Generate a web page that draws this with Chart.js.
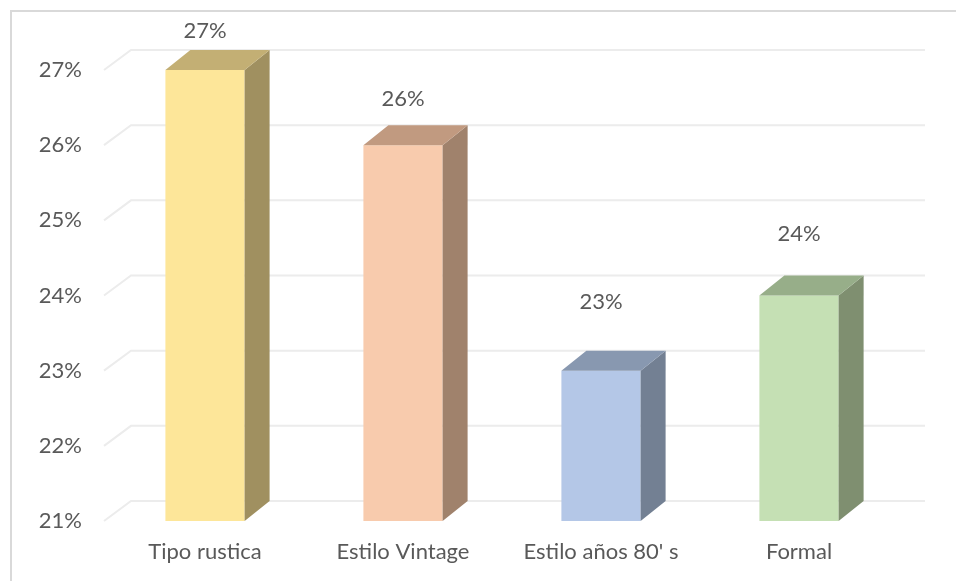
<!DOCTYPE html>
<html>
<head>
<meta charset="utf-8">
<script src="https://cdn.jsdelivr.net/npm/chart.js@4.4.1/dist/chart.umd.min.js"></script>
<style>
  body { margin: 0; background: #fff; overflow: hidden; }
  #wrap { position: relative; width: 956px; height: 581px; }
  #frame { position: absolute; left: 10px; top: 10px; width: 1000px; height: 1000px;
           border: 2px solid #d9d9d9; pointer-events: none; }
  canvas { position: absolute; left: 0; top: 0; }
</style>
</head>
<body>
<div id="wrap">
  <canvas id="estilos" width="956" height="581"></canvas>
  <div id="frame"></div>
</div>
<script>
const categorias = ["Tipo rustica", "Estilo Vintage", "Estilo años 80' s", "Formal"];
const porcentajes = [27, 26, 23, 24];
const caraFrente = ["#FDE699", "#F8CBAD", "#B4C7E7", "#C5E0B4"];
const caraLado = ["#A09060", "#A0826C", "#738093", "#7F8F70"];
const caraArriba = ["#C3AF74", "#C19A80", "#8898B0", "#97AE89"];

const PROF_X = 25, PROF_Y = 20;
const texto = "#595959";
const fuente = "Lato";
const tam = 22;

// back wall lines plus the little slanted floor segment on the left
const rejilla3d = {
    id: "rejilla3d",
    beforeDatasetsDraw(chart) {
        const { ctx, chartArea, scales } = chart;
        ctx.save();
        ctx.strokeStyle = "#ececec";
        ctx.lineWidth = 2;
        for (const t of scales.y.ticks) {
            const y = scales.y.getPixelForValue(t.value);
            ctx.beginPath();
            ctx.moveTo(chartArea.left - 2, y);
            ctx.lineTo(chartArea.left + PROF_X, y - PROF_Y);
            ctx.lineTo(chartArea.right + PROF_X + 2, y - PROF_Y);
            ctx.stroke();
        }
        ctx.restore();
    }
};

// side and top faces of each column, then the value labels
const columnas3d = {
    id: "columnas3d",
    afterDatasetsDraw(chart) {
        const ctx = chart.ctx;
        const meta = chart.getDatasetMeta(0);
        ctx.save();
        meta.data.forEach((bar, i) => {
            const half = bar.width / 2;
            const l = bar.x - half, r = bar.x + half;
            const top = bar.y, base = bar.base;

            ctx.fillStyle = caraLado[i];
            ctx.beginPath();
            ctx.moveTo(r, top);
            ctx.lineTo(r + PROF_X, top - PROF_Y);
            ctx.lineTo(r + PROF_X, base - PROF_Y);
            ctx.lineTo(r, base);
            ctx.closePath();
            ctx.fill();

            ctx.fillStyle = caraArriba[i];
            ctx.beginPath();
            ctx.moveTo(l, top);
            ctx.lineTo(l + PROF_X, top - PROF_Y);
            ctx.lineTo(r + PROF_X, top - PROF_Y);
            ctx.lineTo(r, top);
            ctx.closePath();
            ctx.fill();

            const lift = 39 + (top - chart.chartArea.top) * 0.1;
            ctx.fillStyle = texto;
            ctx.font = tam + "px " + fuente;
            ctx.textAlign = "center";
            ctx.textBaseline = "middle";
            ctx.fillText(porcentajes[i] + "%", bar.x, top - lift);
        });
        ctx.restore();
    }
};

new Chart(document.getElementById("estilos"), {
    type: "bar",
    data: {
        labels: categorias,
        datasets: [{
            data: porcentajes,
            backgroundColor: caraFrente,
            borderWidth: 0,
            base: 21,
            barPercentage: 0.4,
            categoryPercentage: 1
        }]
    },
    options: {
        responsive: false,
        animation: false,
        events: [],
        layout: { padding: { left: 0, right: 58, top: 70, bottom: 0 } },
        plugins: { legend: { display: false }, tooltip: { enabled: false } },
        scales: {
            x: {
                grid: { display: false },
                border: { display: false },
                ticks: { color: texto, font: { family: fuente, size: tam }, padding: 10, maxRotation: 0 },
                afterFit(scale) { scale.height = 60; }
            },
            y: {
                min: 21,
                max: 27,
                grid: { display: false },
                border: { display: false },
                ticks: {
                    stepSize: 1,
                    color: texto,
                    font: { family: fuente, size: tam },
                    padding: 16,
                    callback: v => v + "%"
                },
                afterFit(scale) { scale.width = 106; }
            }
        }
    },
    plugins: [rejilla3d, columnas3d]
});
</script>
</body>
</html>
